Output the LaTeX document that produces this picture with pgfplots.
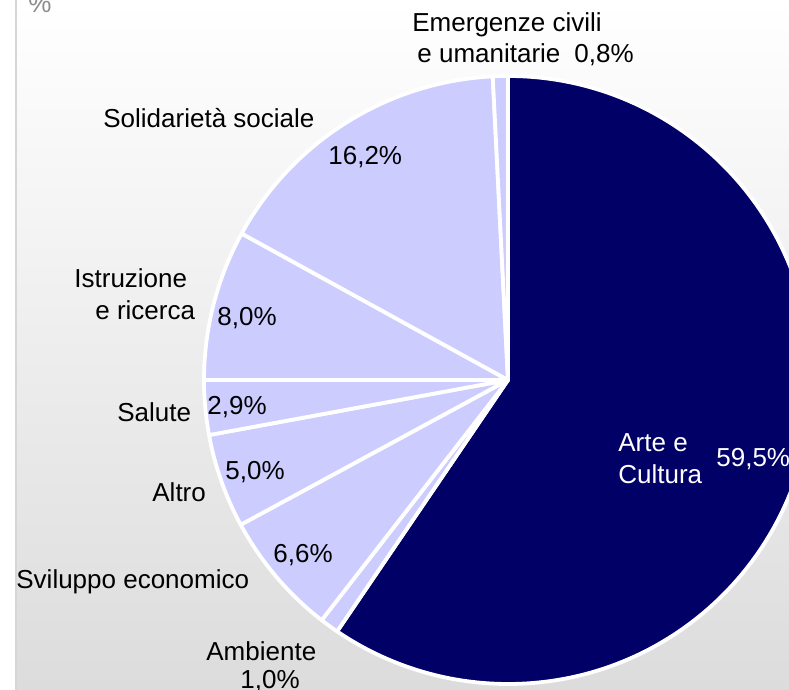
\documentclass[border=0pt]{standalone}
\usepackage{pgfplots}
\pgfplotsset{compat=1.18}
\usepackage{pgfplotstable}
\usepackage{fontspec}
\setmainfont{Liberation Sans}
\definecolor{navyc}{HTML}{000066}
\definecolor{lavc}{HTML}{CCCCFF}
\definecolor{bgbot}{HTML}{DCDCDC}
\definecolor{edgec}{HTML}{D6D6D6}
\definecolor{pctc}{HTML}{8C8C8C}
\tikzset{lbl/.style={anchor=base west,inner sep=0pt,font=\fontsize{13}{16}\selectfont,text=black}}

\pgfplotstableread{
label val col
Arte 59.5 navyc
Ambiente 1.0 lavc
Sviluppo 6.6 lavc
Altro 5.0 lavc
Salute 2.9 lavc
Istruzione 8.0 lavc
Solidarieta 16.2 lavc
Emergenze 0.8 lavc
}\piedata

\begin{document}
\begin{tikzpicture}
\begin{axis}[x=0.5pt,y=0.5pt,xmin=0,xmax=789,ymin=0,ymax=690,hide axis,clip=false]
\coordinate (SW) at (axis cs:0,0);
\coordinate (NE) at (axis cs:789,690);
\pgfplotsextra{
 \begin{scope}
 \clip (axis cs:0,0) rectangle (axis cs:789,690);
 \fill[white] (axis cs:0,0) rectangle (axis cs:789,690);
 \shade[top color=white, bottom color=bgbot] (axis cs:16,0) rectangle (axis cs:789,690);
 \draw[edgec, line width=1pt] (axis cs:16,0) -- (axis cs:16,690);
 \pgfplotstablegetrowsof{\piedata}
 \pgfmathtruncatemacro\lastrow{\pgfplotsretval-1}
 \gdef\cumang{90}
 \foreach \i in {0,...,\lastrow}{
   \pgfplotstablegetelem{\i}{val}\of\piedata \let\sliceval=\pgfplotsretval
   \pgfplotstablegetelem{\i}{col}\of\piedata \let\slicecol=\pgfplotsretval
   \pgfmathsetmacro\aend{\cumang-3.6*\sliceval}
   \fill[fill=\slicecol, draw=white, line width=1.9pt, line join=round]
     (axis cs:508,310) -- ++(\cumang:152pt) arc[start angle=\cumang, end angle=\aend, radius=152pt] -- cycle;
   \global\let\cumang=\aend
 }
 \end{scope}
}
\node[lbl,text=pctc] at (axis cs:28,677) {\%};
\node[lbl] at (axis cs:412,658) {Emergenze civili};
\node[lbl] at (axis cs:417,627) {e umanitarie};
\node[lbl] at (axis cs:574,627) {0,8\%};
\node[lbl] at (axis cs:103,562) {Solidarietà sociale};
\node[lbl] at (axis cs:328,525) {16,2\%};
\node[lbl] at (axis cs:74,402) {Istruzione};
\node[lbl] at (axis cs:95,370) {e ricerca};
\node[lbl] at (axis cs:217,364) {8,0\%};
\node[lbl] at (axis cs:117,268) {Salute};
\node[lbl] at (axis cs:207,275) {2,9\%};
\node[lbl] at (axis cs:152,188) {Altro};
\node[lbl] at (axis cs:225,210) {5,0\%};
\node[lbl] at (axis cs:273,127) {6,6\%};
\node[lbl] at (axis cs:16,101) {Sviluppo economico};
\node[lbl] at (axis cs:206,29) {Ambiente};
\node[lbl] at (axis cs:240,1) {1,0\%};
\node[lbl,text=white] at (axis cs:618,238) {Arte e};
\node[lbl,text=white] at (axis cs:618,206) {Cultura};
\node[lbl,text=white] at (axis cs:716,223) {59,5\%};
\end{axis}
\pgfresetboundingbox
\path[use as bounding box] (SW) rectangle (NE);
\end{tikzpicture}
\end{document}
